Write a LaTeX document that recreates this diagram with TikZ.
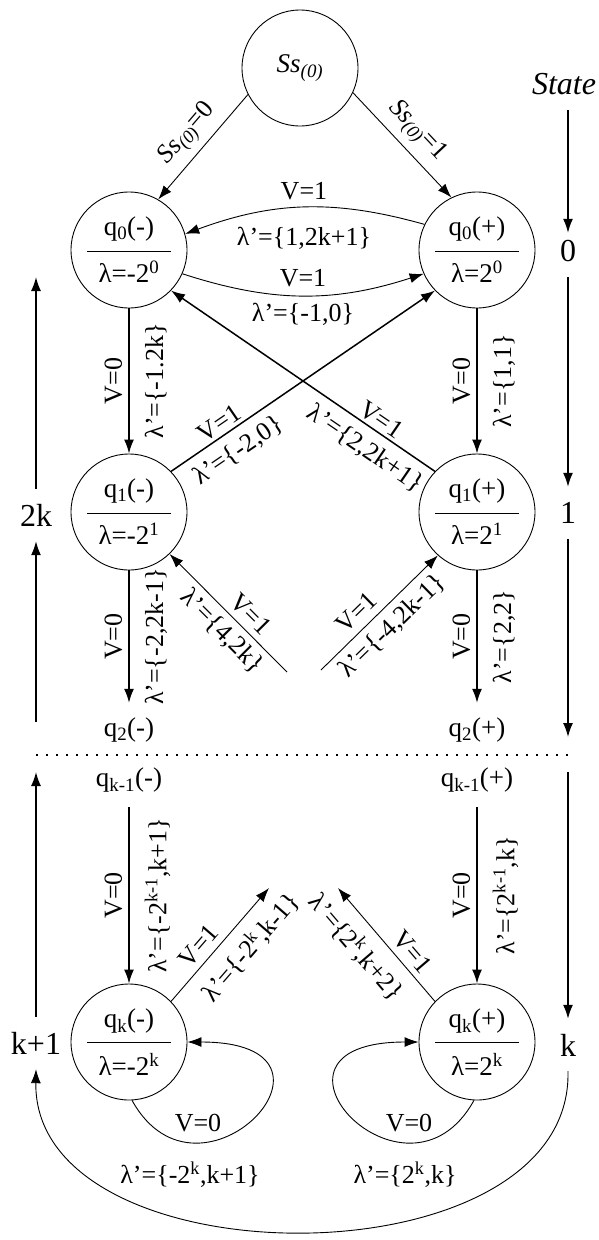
\documentclass[tikz,border=0pt]{standalone}
\usepackage{fontspec}
\setmainfont{Liberation Serif}
\usetikzlibrary{arrows.meta}
\newcommand{\qfrac}[2]{\vbox{\hbox to 84pt{\hss#1\hss}\kern9pt\hrule height 0.8pt\kern10pt\hbox to 84pt{\hss#2\hss}}}
\newcommand{\Ssz}{\textit{Ss}\textsubscript{\textit{(0)}}}

\begin{document}
\begin{tikzpicture}[
    x=1pt, y=-1pt,
    font=\fontsize{26}{30}\selectfont,
    qstate/.style={
        circle,
        draw,
        line width=0.9pt,
        minimum size=116pt,
        inner sep=0pt,
        font=\fontsize{27}{31}\selectfont
    },
    qtxt/.style={inner sep=0pt, minimum height=54pt, font=\fontsize{27}{31}\selectfont},
    levlbl/.style={inner sep=0pt, minimum height=52pt, font=\fontsize{32}{36}\selectfont},
    elbl/.style={inner sep=3pt},
    arr/.style={-{Latex[length=14pt, width=10pt]}, line width=0.9pt},
    arrthick/.style={-{Latex[length=14pt, width=10pt]}, line width=1.5pt},
    sepline/.style={line width=2.2pt, dash pattern=on 2.4pt off 7.6pt}
]
\useasboundingbox (0,0) rectangle (599,1240);

% states
\node[qstate] (ss0) at (300,68) {\Ssz};
\node[qstate] (q0m) at (129,250) {\qfrac{q\textsubscript{0}(-)}{λ=-2\textsuperscript{0}}};
\node[qstate] (q0p) at (477,250) {\qfrac{q\textsubscript{0}(+)}{λ=2\textsuperscript{0}}};
\node[qstate] (q1m) at (129,512) {\qfrac{q\textsubscript{1}(-)}{λ=-2\textsuperscript{1}}};
\node[qstate] (q1p) at (477,512) {\qfrac{q\textsubscript{1}(+)}{λ=2\textsuperscript{1}}};
\node[qtxt] (q2m) at (129,730) {q\textsubscript{2}(-)};
\node[qtxt] (q2p) at (477,730) {q\textsubscript{2}(+)};
\node[qtxt] (qk1m) at (129,780) {q\textsubscript{k-1}(-)};
\node[qtxt] (qk1p) at (477,780) {q\textsubscript{k-1}(+)};
\node[qstate] (qkm) at (129,1042) {\qfrac{q\textsubscript{k}(-)}{λ=-2\textsuperscript{k}}};
\node[qstate] (qkp) at (477,1042) {\qfrac{q\textsubscript{k}(+)}{λ=2\textsuperscript{k}}};

% free ends
\coordinate (in1) at (287,672);
\coordinate (in2) at (321,670);
\coordinate (out1) at (269,888);
\coordinate (out2) at (338,888);

% state levels
\node[levlbl, font=\fontsize{32}{36}\selectfont\itshape] (st) at (564,84) {State};
\node[levlbl] (s0) at (568,251) {0};
\node[levlbl] (s1) at (568,513) {1};
\node[levlbl] (sk) at (568,1045) {k};
\node[levlbl] (l2k) at (36,515) {2k};
\node[levlbl] (lk1) at (36,1043) {k+1};
\coordinate (cr1) at (568,737);
\coordinate (cr2) at (568,772);
\coordinate (cl0) at (36,277);
\coordinate (cl1) at (36,722);
\coordinate (cl2) at (36,772);
\coordinate (dl) at (36,755);
\coordinate (dr) at (568,755);

\draw[arr] (ss0.207) -- node[elbl, sloped, above=4pt] (e1) {\Ssz=0} (q0m.60);
\draw[arr] (ss0.335) -- node[elbl, sloped, above=4pt] (e2) {\Ssz=1} (q0p.116);
\draw[arr] (q0p.154) to[bend right=18] node[elbl, above=4pt] (e3) {V=1} node[elbl, below=16pt] (e4) {λ’=\{1,2k+1\}} (q0m.16);
\draw[arr] (q0m.336) to[bend right=18] node[elbl, above=5pt] (e5) {V=1} node[elbl, below=4pt] (e6) {λ’=\{-1,0\}} (q0p.204);
\draw[arrthick] (q0m) -- node[elbl, rotate=90, above=3pt] (e7) {V=0} node[elbl, rotate=90, below=12pt] (e8) {λ’=\{-1.2k\}} (q1m);
\draw[arrthick] (q0p) -- node[elbl, rotate=90, above=3pt] (e9) {V=0} node[elbl, rotate=90, below=12pt] (e10) {λ’=\{1,1\}} (q1p);
\draw[arrthick] (q1m.44) -- node[elbl, pos=0.21, sloped, above] (e11) {V=1} node[elbl, pos=0.21, sloped, below=6pt] (e12) {λ’=\{-2,0\}} (q0p.224);
\draw[arrthick] (q1p.136) -- node[elbl, pos=0.23, sloped, above] (e13) {V=1} node[elbl, pos=0.22, sloped, below=6pt] (e14) {λ’=\{2,2k+1\}} (q0m.316);
\draw[arrthick] (q1m) -- node[elbl, rotate=90, above=3pt] (e15) {V=0} node[elbl, rotate=90, below=12pt] (e16) {λ’=\{-2,2k-1\}} (q2m);
\draw[arrthick] (q1p) -- node[elbl, rotate=90, above=3pt] (e17) {V=0} node[elbl, rotate=90, below=12pt] (e18) {λ’=\{2,2\}} (q2p);
\draw[arr] (in1) -- node[elbl, pos=0.4, sloped, above=3pt] (e19) {V=1} node[elbl, pos=0.45, sloped, below=3pt] (e20) {λ’=\{4,2k\}} (q1m.314);
\draw[arr] (in2) -- node[elbl, pos=0.4, sloped, above=4pt] (e21) {V=1} node[elbl, pos=0.5, sloped, below=4pt] (e22) {λ’=\{-4,2k-1\}} (q1p.228);
\draw[sepline] (dl) -- (dr);
\draw[arrthick] (qk1m) -- node[elbl, rotate=90, above=3pt] (e23) {V=0} node[elbl, rotate=90, below=12pt] (e24) {λ’=\{-2\textsuperscript{k-1},k+1\}} (qkm);
\draw[arrthick] (qk1p) -- node[elbl, rotate=90, above=3pt] (e25) {V=0} node[elbl, rotate=90, below=12pt] (e26) {λ’=\{2\textsuperscript{k-1},k\}} (qkp);
\draw[arr] (qkm.44) -- node[elbl, pos=0.4, sloped, above=3pt] (e27) {V=1} node[elbl, pos=0.62, sloped, below=8pt] (e28) {λ’=\{-2\textsuperscript{k},k-1\}} (out1);
\draw[arr] (qkp.136) -- node[elbl, pos=0.35, sloped, above=3pt] (e29) {V=1} node[elbl, pos=0.62, sloped, below=8pt] (e30) {λ’=\{2\textsuperscript{k},k+2\}} (out2);

% self loops
\draw[arr] (qkm.-87) .. controls +(68,123) and +(182,0) .. (qkm.east);
\draw[arr] (qkp.-93) .. controls +(-68,123) and +(-182,0) .. (qkp.west);
\node[elbl] (lp1) at (198,1123) {V=0};
\node[elbl] (lp2) at (190,1175) {λ’=\{-2\textsuperscript{k},k+1\}};
\node[elbl] (lp3) at (409,1123) {V=0};
\node[elbl] (lp4) at (405,1175) {λ’=\{2\textsuperscript{k},k\}};

% level arrows
\draw[arrthick] (st.south -| s0.north) -- ([yshift=-8pt]s0.north);
\draw[arrthick] (s0) -- (s1);
\draw[arrthick] (s1) -- (cr1);
\draw[arrthick] (cr2) -- (sk);
\draw[arrthick] (l2k) -- (cl0);
\draw[arrthick] (cl1) -- (l2k);
\draw[arrthick] (lk1) -- (cl2);
\draw[arr] (sk.south) .. controls +(5,215) and +(-3,215) .. (lk1.south);
\end{tikzpicture}
\end{document}
